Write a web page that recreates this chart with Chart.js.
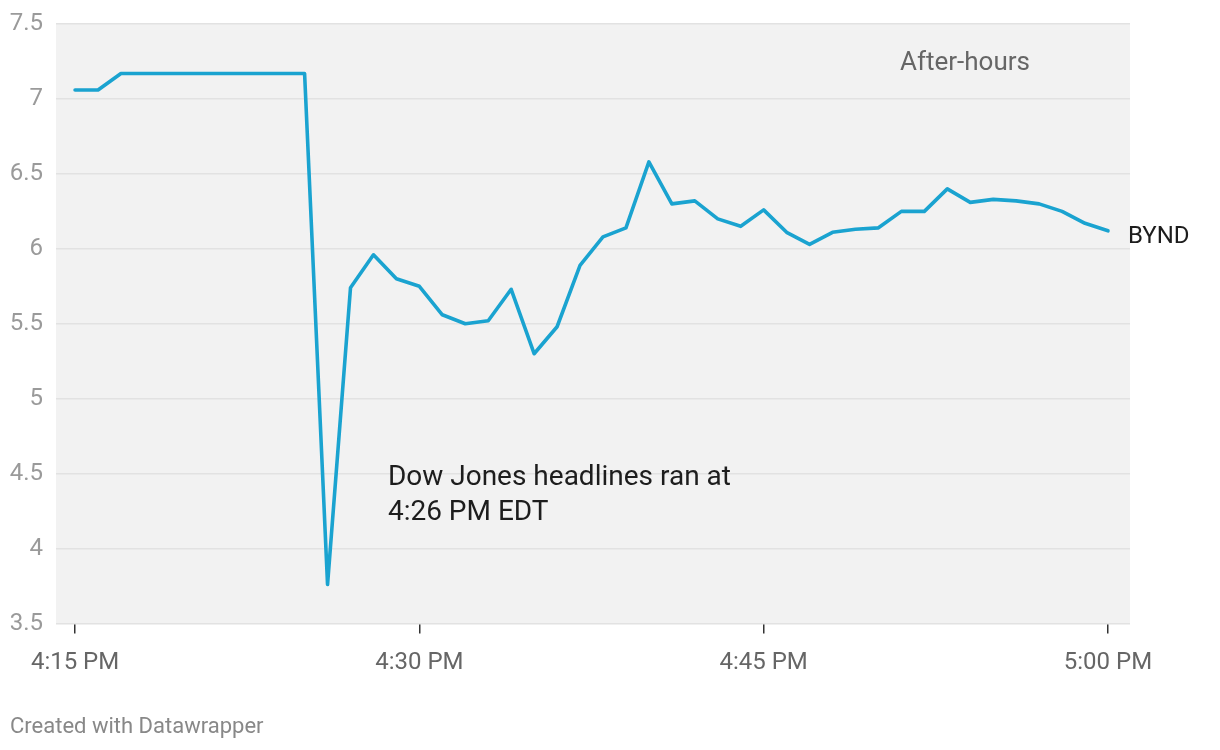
<!DOCTYPE html>
<html><head><meta charset="utf-8">
<script src="https://cdn.jsdelivr.net/npm/chart.js@4/dist/chart.umd.min.js"></script>
<style>html,body{margin:0;padding:0;background:#fff;} canvas{display:block}</style>
</head><body>
<canvas id="c" width="1220" height="750"></canvas>
<script>
// minutes after 4:15 PM
const minutes = [0,1,2,3,4,5,6,7,8,9,10,11,12,13,14,15,16,17,18,19,20,21,22,23,24,25,26,27,28,29,30,31,32,33,34,35,36,37,38,39,40,41,42,43,44,45];
const prices = [7.06,7.06,7.17,7.17,7.17,7.17,7.17,7.17,7.17,7.17,7.17,3.76,5.74,5.96,5.80,5.75,5.56,5.50,5.52,5.73,5.30,5.48,5.89,6.08,6.14,6.58,6.30,6.32,6.20,6.15,6.26,6.11,6.03,6.11,6.13,6.14,6.25,6.25,6.40,6.31,6.33,6.32,6.30,6.25,6.17,6.12];
const seriesName = 'BYND';
const xTickValues = [0,15,30,45];
const xTickLabels = ['4:15 PM','4:30 PM','4:45 PM','5:00 PM'];
const yTickValues = [3.5,4,4.5,5,5.5,6,6.5,7,7.5];
const yTickLabels = ['3.5','4','4.5','5','5.5','6','6.5','7','7.5'];
const noteLines = ['Dow Jones headlines ran at','4:26 PM EDT'];
const sessionLabel = 'After-hours';
const footer = 'Created with Datawrapper';

const FONT = 'Roboto';

const bgPlugin = {
  id:'bg',
  beforeDraw(chart){
    const {ctx, chartArea:a} = chart;
    ctx.save();
    ctx.fillStyle = '#f2f2f2';
    ctx.fillRect(a.left, a.top, a.right - a.left, a.bottom - a.top);
    ctx.restore();
  }
};

const textPlugin = {
  id:'texts',
  afterDatasetsDraw(chart){
    const {ctx} = chart;
    const xs = chart.scales.x, ys = chart.scales.y;
    ctx.save();
    ctx.textBaseline = 'middle';
    // annotation
    ctx.fillStyle = '#1d1d1d';
    ctx.font = '28px ' + FONT;
    ctx.textAlign = 'left';
    const nx = xs.getPixelForValue(13.63);
    ctx.fillText(noteLines[0], nx, ys.getPixelForValue(4.47));
    ctx.fillText(noteLines[1], nx, ys.getPixelForValue(4.24));
    // after-hours
    ctx.fillStyle = '#666666';
    ctx.font = '26px ' + FONT;
    ctx.textAlign = 'center';
    ctx.fillText(sessionLabel, xs.getPixelForValue(38.77), ys.getPixelForValue(7.237));
    // series label
    const last = prices.length - 1;
    ctx.fillStyle = '#1d1d1d';
    ctx.font = '24px ' + FONT;
    ctx.textAlign = 'left';
    ctx.fillText(seriesName, xs.getPixelForValue(minutes[last]) + 20, ys.getPixelForValue(prices[last]) + 6);
    // footer
    ctx.fillStyle = '#888888';
    ctx.font = '22px ' + FONT;
    ctx.fillText(footer, 10, 727);
    ctx.restore();
  }
};

new Chart(document.getElementById('c'), {
  type:'line',
  data:{
    datasets:[{
      label: seriesName,
      data: minutes.map((m,i)=>({x:m, y:prices[i]})),
      borderColor:'#1aa3d0',
      borderWidth:3.6,
      pointRadius:0,
      tension:0,
      borderJoinStyle:'round',
      borderCapStyle:'round'
    }]
  },
  options:{
    responsive:false,
    animation:false,
    events:[],
    layout:{padding:{left:0,right:90,top:24,bottom:0}},
    plugins:{legend:{display:false}, tooltip:{enabled:false}},
    scales:{
      x:{
        type:'linear', min:-0.83, max:45.96,
        afterBuildTicks:s=>{ s.ticks = xTickValues.map(v=>({value:v})); },
        afterFit:s=>{ s.height = 126.5; s.paddingLeft = 0; s.paddingRight = 0; },
        ticks:{
          callback:(v)=>xTickLabels[xTickValues.indexOf(v)],
          font:{family:FONT, size:24}, color:'#666666', padding:15,
          maxRotation:0, autoSkip:false
        },
        grid:{drawOnChartArea:false, tickLength:10, color:'#333333', lineWidth:1.5},
        border:{display:false}
      },
      y:{
        min:3.5, max:7.5,
        afterBuildTicks:s=>{ s.ticks = yTickValues.map(v=>({value:v})); },
        afterFit:s=>{ s.width = 56; s.paddingTop = 0; s.paddingBottom = 0; },
        ticks:{
          callback:(v)=>yTickLabels[yTickValues.indexOf(v)],
          font:{family:FONT, size:24}, color:'#9a9a9a', padding:13
        },
        grid:{color:'#e2e2e2', drawTicks:false, lineWidth:1.5},
        border:{display:false}
      }
    }
  },
  plugins:[bgPlugin, textPlugin]
});
</script>
</body></html>
